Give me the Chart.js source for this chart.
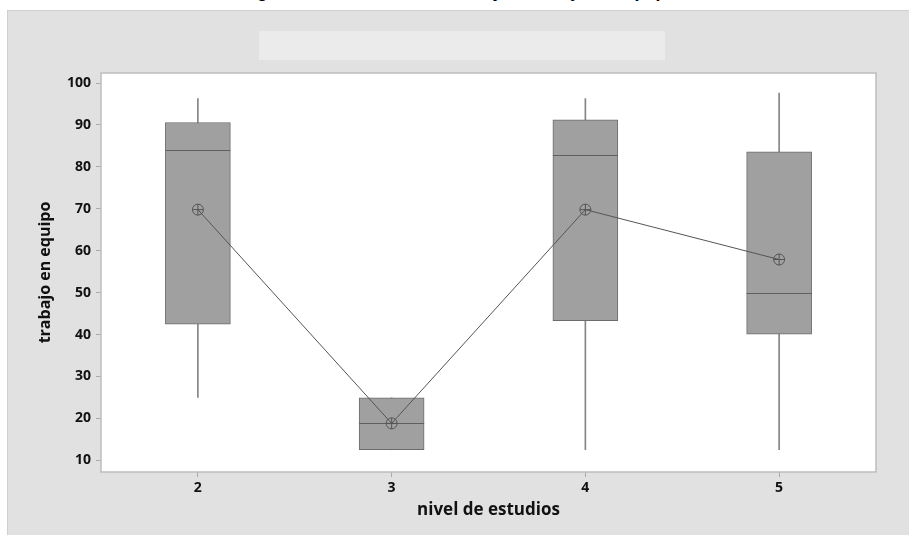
<!DOCTYPE html>
<html>
<head>
<meta charset="utf-8">
<script src="https://cdn.jsdelivr.net/npm/chart.js@4"></script>
<style>
  body { margin: 0; background: #fff; }
  #title {
    position: absolute; left: 0; top: 0; width: 909px; height: 6px; overflow: hidden;
  }
  #title span {
    position: absolute; left: 0; width: 909px; top: -18px; text-align: center;
    font: italic bold 18px/18px "Liberation Sans", sans-serif; color: #000;
  }
  #panel {
    position: absolute; left: 7px; top: 10px; width: 901px; height: 524px;
    border-left: 1px solid #cfcfcf; border-top: 1px solid #cfcfcf; background: #e1e1e1;
  }
  #legendBox {
    position: absolute; left: 251px; top: 20px; width: 406px; height: 29px; background: #ebebeb;
  }
  canvas { position: absolute; left: 0; top: 0; }
</style>
</head>
<body>
<div id="title"><span>Diagrama de nivel de estudios y el trabajo en equipo</span></div>
<div id="panel">
  <canvas id="boxChart" width="901" height="524"></canvas>
  <div id="legendBox"></div>
</div>
<script>
// nivel de estudios
const levels = ["2", "3", "4", "5"];
// box plot summaries for trabajo en equipo
const whiskerLow = [25, 12.5, 12.5, 12.5];
const whiskerHigh = [96.3, 24.9, 96.3, 97.6];
const q1 = [42.5, 12.5, 43.3, 40.1];
const q3 = [90.6, 24.9, 91.2, 83.6];
const medians = [84, 18.8, 82.9, 50];
const means = [69.8, 18.8, 69.8, 57.9];
const yTicks = [10, 20, 30, 40, 50, 60, 70, 80, 90, 100];

const ranges = (lo, hi) => lo.map((v, i) => [v, hi[i]]);

// draws the median line across each box, right after the boxes
const medianPlugin = {
  id: "medianLines",
  afterDatasetDraw(chart, args) {
    if (args.index !== 1) return;
    const ctx = chart.ctx;
    const y = chart.scales.y;
    ctx.save();
    ctx.strokeStyle = "#5f5f5f";
    ctx.lineWidth = 1;
    args.meta.data.forEach((bar, i) => {
      const py = Math.round(y.getPixelForValue(medians[i])) + 0.5;
      ctx.beginPath();
      ctx.moveTo(bar.x - bar.width / 2, py);
      ctx.lineTo(bar.x + bar.width / 2, py);
      ctx.stroke();
    });
    ctx.restore();
  },
};

// white plot area with gray frame
const framePlugin = {
  id: "frame",
  beforeDraw(chart) {
    const { ctx, chartArea: a } = chart;
    ctx.save();
    ctx.fillStyle = "#fff";
    ctx.fillRect(a.left, a.top, a.right - a.left, a.bottom - a.top);
    ctx.restore();
  },
  afterDraw(chart) {
    const { ctx, chartArea: a } = chart;
    ctx.save();
    ctx.strokeStyle = "#bdbdbd";
    ctx.lineWidth = 1.5;
    ctx.strokeRect(a.left, a.top, a.right - a.left, a.bottom - a.top);
    ctx.restore();
  },
};

const tickFont = { family: "'Open Sans', sans-serif", size: 14, weight: "bold" };

new Chart(document.getElementById("boxChart").getContext("2d"), {
  type: "bar",
  data: {
    labels: levels,
    datasets: [
      {
        label: "whisker",
        data: ranges(whiskerLow, whiskerHigh),
        backgroundColor: "#858585",
        barThickness: 1,
        grouped: false,
        order: 3,
      },
      {
        label: "box",
        data: ranges(q1, q3),
        backgroundColor: "#a0a0a0",
        borderColor: "#6c6c6c",
        borderWidth: 1,
        borderSkipped: false,
        barThickness: 65,
        grouped: false,
        order: 2,
      },
      {
        type: "line",
        label: "media",
        data: means,
        borderColor: "#555",
        borderWidth: 1,
        pointStyle: "circle",
        pointRadius: 5.5,
        pointBackgroundColor: "rgba(0,0,0,0)",
        pointBorderColor: "#555",
        pointBorderWidth: 1,
        order: 1,
      },
      {
        type: "line",
        label: "media cruz",
        data: means,
        showLine: false,
        pointStyle: "cross",
        pointRadius: 5.5,
        pointBorderColor: "#555",
        pointBorderWidth: 1,
        order: 0,
      },
    ],
  },
  options: {
    responsive: false,
    animation: false,
    layout: { padding: { left: 0, right: 33, top: 62, bottom: 0 } },
    plugins: {
      legend: { display: false },
      tooltip: { enabled: false },
    },
    scales: {
      x: {
        offset: true,
        border: { display: false },
        grid: { display: true, drawOnChartArea: false, tickLength: 5, color: "#aaa", offset: false },
        ticks: { color: "#111", font: tickFont, padding: 3 },
        title: {
          display: true, text: "nivel de estudios", color: "#111",
          font: { family: "'Open Sans', sans-serif", size: 17, weight: "bold" },
          padding: { bottom: 15 },
        },
        afterFit(scale) { scale.height = 63; },
      },
      y: {
        min: 7.2,
        max: 102.4,
        border: { display: false },
        grid: { drawOnChartArea: false, tickLength: 5, color: "#aaa" },
        ticks: { color: "#111", font: tickFont, padding: 5 },
        afterBuildTicks(scale) { scale.ticks = yTicks.map((v) => ({ value: v })); },
        title: {
          display: true, text: "trabajo en equipo", color: "#111",
          font: { family: "'Open Sans', sans-serif", size: 16, weight: "bold" },
          padding: { top: 28 },
        },
        afterFit(scale) { scale.width = 93; },
      },
    },
  },
  plugins: [framePlugin, medianPlugin],
});
</script>
</body>
</html>
